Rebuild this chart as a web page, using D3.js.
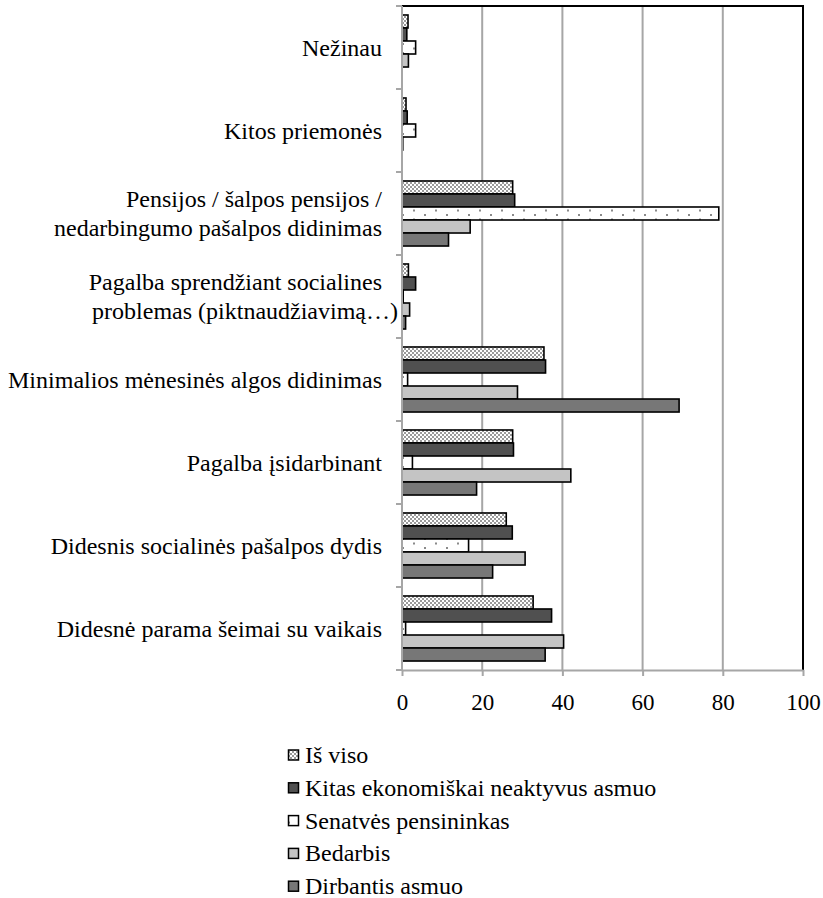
<!DOCTYPE html>
<html>
<head>
<meta charset="utf-8">
<script src="https://cdn.jsdelivr.net/npm/d3@7"></script>
<style>
  body { margin: 0; background: #fff; }
</style>
</head>
<body>
<div id="chart"></div>
<script>
// categories, top to bottom
let categories = [
    "Nežinau",
    "Kitos priemonės",
    "Pensijos / šalpos pensijos / nedarbingumo pašalpos didinimas",
    "Pagalba sprendžiant socialines problemas (piktnaudžiavimą…)",
    "Minimalios mėnesinės algos didinimas",
    "Pagalba įsidarbinant",
    "Didesnis socialinės pašalpos dydis",
    "Didesnė parama šeimai su vaikais"
];
// how each label wraps
let labelLines = [
    ["Nežinau"],
    ["Kitos priemonės"],
    ["Pensijos / šalpos pensijos /", "nedarbingumo pašalpos didinimas"],
    ["Pagalba sprendžiant socialines", "problemas (piktnaudžiavimą…)"],
    ["Minimalios mėnesinės algos didinimas"],
    ["Pagalba įsidarbinant"],
    ["Didesnis socialinės pašalpos dydis"],
    ["Didesnė parama šeimai su vaikais"]
];

let seriesNames = ["Iš viso", "Kitas ekonomiškai neaktyvus asmuo", "Senatvės pensininkas", "Bedarbis", "Dirbantis asmuo"];

// values (%) per category
let isViso    = [1.5, 1.0, 27.6, 1.6, 35.4, 27.6, 26.0, 32.7];
let kitas     = [1.2, 1.3, 28.1, 3.4, 35.8, 27.8, 27.5, 37.3];
let senatves  = [3.4, 3.4, 79.0, 0.3, 1.4, 2.6, 16.6, 0.9];
let bedarbis  = [1.6, 0.2, 17.0, 1.9, 28.8, 42.1, 30.7, 40.3];
let dirbantis = [0, 0, 11.6, 0.9, 69.1, 18.6, 22.6, 35.7];

let xTicks = [0, 20, 40, 60, 80, 100];

let seriesValues = [isViso, kitas, senatves, bedarbis, dirbantis];
let fills = ["url(#checker)", "#505050", "url(#dots)", "#c4c4c4", "#777777"];

let serif = "'Liberation Serif', 'Times New Roman', 'DejaVu Serif', serif";

let svgWidth = 823;
let svgHeight = 898;

let margin = { top: 6, left: 402, right: 20, bottom: 228 };
let width = svgWidth - margin.left - margin.right;   // 401
let height = svgHeight - margin.top - margin.bottom; // 664

let svg = d3.select("#chart")
    .append("svg")
    .attr("width", svgWidth)
    .attr("height", svgHeight)
    .style("font-family", serif);

// patterns
let defs = svg.append("defs");
let checker = defs.append("pattern")
    .attr("id", "checker")
    .attr("patternUnits", "userSpaceOnUse")
    .attr("width", 4).attr("height", 4);
checker.append("rect").attr("width", 4).attr("height", 4).attr("fill", "#fff");
checker.append("rect").attr("width", 2).attr("height", 2).attr("fill", "#9a9a9a");
checker.append("rect").attr("x", 2).attr("y", 2).attr("width", 2).attr("height", 2).attr("fill", "#9a9a9a");

let dots = defs.append("pattern")
    .attr("id", "dots")
    .attr("patternUnits", "userSpaceOnUse")
    .attr("width", 22).attr("height", 9);
dots.append("rect").attr("width", 22).attr("height", 9).attr("fill", "#fff");
dots.append("rect").attr("x", 0).attr("y", 1).attr("width", 2).attr("height", 2).attr("fill", "#8a8a8a");
dots.append("rect").attr("x", 11).attr("y", 5.5).attr("width", 2).attr("height", 2).attr("fill", "#8a8a8a");

let chartGroup = svg.append("g")
    .attr("transform", `translate(${margin.left}, ${margin.top})`);

// scales
let xScale = d3.scaleLinear().domain([0, 100]).range([0, width]);
let y0 = d3.scaleBand().domain(categories).range([0, height]).padding(0);
let y1 = d3.scaleBand().domain(seriesNames).range([0, y0.bandwidth()]).paddingInner(0).paddingOuter(0.69);

// vertical gridlines
chartGroup.selectAll(".grid")
    .data(xTicks.filter(d => d > 0 && d < 100))
    .enter()
    .append("line")
    .attr("x1", d => xScale(d))
    .attr("x2", d => xScale(d))
    .attr("y1", 0)
    .attr("y2", height)
    .attr("stroke", "#a6a6a6")
    .attr("stroke-width", 2);

// top and right border
chartGroup.append("path")
    .attr("d", `M0,0H${xScale(100)}V${height}`)
    .attr("fill", "none")
    .attr("stroke", "#000")
    .attr("stroke-width", 2);

// bars
let rows = [];
categories.forEach((c, i) => {
    seriesNames.forEach((s, j) => {
        rows.push({ cat: c, series: s, value: seriesValues[j][i], fill: fills[j] });
    });
});

chartGroup.selectAll(".bar")
    .data(rows.filter(d => d.value > 0))
    .enter()
    .append("rect")
    .attr("x", xScale(0))
    .attr("y", d => y0(d.cat) + y1(d.series))
    .attr("width", d => xScale(d.value) - xScale(0))
    .attr("height", y1.bandwidth())
    .attr("fill", d => d.fill)
    .attr("stroke", "#000")
    .attr("stroke-width", 1.6);

// x axis
let bottomAxis = d3.axisBottom(xScale).tickValues(xTicks).tickSize(6).tickSizeOuter(0).tickFormat(d3.format("d"));
let xAxis = chartGroup.append("g")
    .attr("transform", `translate(0, ${height})`)
    .call(bottomAxis)
    .attr("font-family", null)
    .attr("font-size", null);
xAxis.select(".domain").attr("stroke", "#a6a6a6").attr("stroke-width", 2);
xAxis.selectAll(".tick line").attr("stroke", "#a6a6a6").attr("stroke-width", 2);
xAxis.selectAll(".tick text")
    .attr("y", 40)
    .attr("dy", 0)
    .style("font-size", "23px")
    .style("font-family", serif)
    .attr("fill", "#000");

// y axis line + ticks at category boundaries
let boundaries = d3.range(categories.length + 1).map(i => i * y0.step());
chartGroup.append("line")
    .attr("x1", 0).attr("x2", 0)
    .attr("y1", 0).attr("y2", height)
    .attr("stroke", "#a6a6a6").attr("stroke-width", 2);
chartGroup.selectAll(".ytick")
    .data(boundaries)
    .enter()
    .append("line")
    .attr("x1", -6).attr("x2", 0)
    .attr("y1", d => d).attr("y2", d => d)
    .attr("stroke", "#a6a6a6").attr("stroke-width", 2);

// category labels
let lineHeight = 29;
let labels = chartGroup.selectAll(".cat-label")
    .data(categories)
    .enter()
    .append("text")
    .attr("text-anchor", "end")
    .style("font-family", serif)
    .style("font-size", "24px")
    .attr("fill", "#000");

labels.each(function (d, i) {
    let lines = labelLines[i];
    let cy = y0(d) + y0.bandwidth() / 2;
    let first = cy - (lines.length - 1) * lineHeight / 2 + 8;
    d3.select(this).selectAll("tspan")
        .data(lines)
        .enter()
        .append("tspan")
        // the "(piktnaudžiavimą…)" line runs past the others in the original
        .attr("x", l => l.endsWith("…)") ? -4 : -20)
        .attr("y", (l, k) => first + k * lineHeight)
        .text(l => l);
});

// legend
let legend = svg.append("g")
    .attr("transform", "translate(288, 755)");

let legendItems = legend.selectAll(".legend-item")
    .data(seriesNames)
    .enter()
    .append("g")
    .attr("transform", (d, i) => `translate(0, ${i * 32.8})`);

legendItems.append("rect")
    .attr("x", 0.5)
    .attr("y", -5)
    .attr("width", 10)
    .attr("height", 10)
    .attr("fill", (d, i) => fills[i])
    .attr("stroke", "#000")
    .attr("stroke-width", 1.5);

legendItems.append("text")
    .attr("x", 17)
    .attr("y", 8)
    .style("font-family", serif)
    .style("font-size", "24px")
    .attr("fill", "#000")
    .text(d => d);
</script>
</body>
</html>
